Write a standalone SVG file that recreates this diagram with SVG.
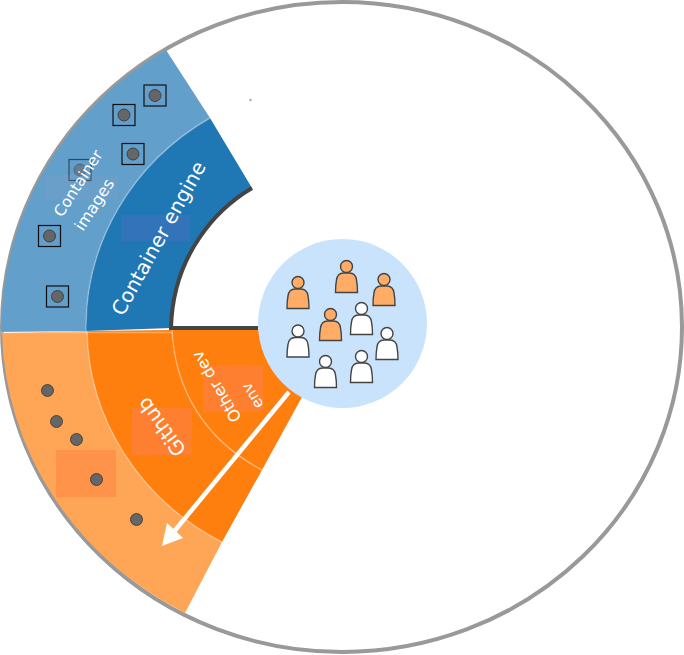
<svg xmlns="http://www.w3.org/2000/svg" width="684" height="655" viewBox="0 0 684 655">
<defs>
<style>
.t{font-family:"DejaVu Sans","Noto Sans",sans-serif;fill:#fff}
.seam{fill:none;stroke:#fff;stroke-opacity:.3;stroke-width:1.5}
.dot{fill:#666;stroke:#333;stroke-width:.8}
.sq{fill:none;stroke:#111;stroke-width:1.2}
.pw{fill:#fff;stroke:#444;stroke-width:1.4}
.po{fill:#ffad66;stroke:#444;stroke-width:1.4}
</style>
<g id="p">
<circle cx="0" cy="-10.500" r="6"/>
<path d="M-11 15.500Q-11 8 -10 3Q-9 -4 -3 -4H3Q9 -4 10 3Q11 8 11 15.500Z"/>
</g>
<g id="img"><rect x="-11" y="-10.500" width="22" height="21" class="sq"/><circle r="6" class="dot"/></g>
</defs>
<rect width="684" height="655" fill="#fff"/>
<ellipse id="outer" cx="342" cy="327" rx="340" ry="325" fill="#fff" stroke="#999" stroke-width="4"/>
<g id="seg-images">
<path d="M1.500 332A340 325 0 0 1 166 50L210 118A256 244 0 0 0 86 331Z" fill="#629fcb"/>
<g transform="translate(155 95.500)"><use href="#img"/></g>
<g transform="translate(124 115)"><use href="#img"/></g>
<g transform="translate(133 154)"><use href="#img"/></g>
<g transform="translate(80 170)" opacity=".6"><use href="#img"/></g>
<g transform="translate(49.500 236)"><use href="#img"/></g>
<g transform="translate(57.500 296.500)"><use href="#img"/></g>
<rect x="45" y="175" width="72" height="25" fill="#8a9fc4" fill-opacity=".18"/>
<text class="t" font-size="15.500" transform="translate(62 218) rotate(-57)">Container</text>
<text class="t" font-size="16" transform="translate(83 232) rotate(-57)">images</text>
</g>
<g id="seg-engine">
<path d="M86 331A256 244 0 0 1 210 118L252 188C232 200 214 216 200 237C184 260 172 290 171 328Z" fill="#1f77b4"/>
<rect x="121" y="215" width="69" height="26" fill="#4a6fc0" fill-opacity=".45"/>
<text class="t" font-size="20" transform="translate(123 317) rotate(-61)">Container engine</text>
<path d="M252 188C232 200 214 216 200 237C184 260 172 290 171 328H258" fill="none" stroke="#444" stroke-width="4"/>
</g>
<g id="seg-outer-orange">
<path d="M2 333A340 325 0 0 0 185 613L222 542A256 244 0 0 1 87 331Z" fill="#ffa556"/>
<rect x="56" y="450" width="60" height="47" fill="#ff7f3a" fill-opacity=".45"/>
<circle cx="47.500" cy="390.500" r="6" class="dot"/>
<circle cx="56.500" cy="421.500" r="6" class="dot"/>
<circle cx="76.500" cy="439.500" r="6" class="dot"/>
<circle cx="96.500" cy="479.500" r="6" class="dot"/>
<circle cx="136.500" cy="519.500" r="6" class="dot"/>
</g>
<g id="seg-github">
<path d="M87 331A256 244 0 0 0 222 542L262 470C205 440 175 390 172 330Z" fill="#ff7f0e"/>
<rect x="132" y="408" width="60" height="47" fill="#ff7f3a" fill-opacity=".8"/>
<text class="t" font-size="20" transform="translate(187 450) rotate(-126)">Github</text>
</g>
<g id="seg-otherdev">
<path d="M172 330C175 390 205 440 262 470L302 397 270 330Z" fill="#ff7f0e"/>
<rect x="203" y="365" width="60" height="47" fill="#ff7f3a" fill-opacity=".8"/>
<text class="t" font-size="16" transform="translate(242 418) rotate(-121)">Other dev</text>
<text class="t" font-size="15" transform="translate(264 405) rotate(-121)">env</text>
</g>
<g id="seams">
<path class="seam" d="M87 331A256 244 0 0 0 222 542"/>
<path class="seam" d="M172 330C175 390 205 440 262 470"/>
<path class="seam" d="M86 331A256 244 0 0 1 210 118"/>
<path class="seam" d="M1 332.500H172"/>
</g>
<circle id="hub" cx="342.500" cy="323.500" r="84.500" fill="#cae3fd"/>
<g id="people">
<use href="#p" class="po" x="298" y="293"/>
<use href="#p" class="po" x="346.500" y="277"/>
<use href="#p" class="po" x="384" y="290"/>
<use href="#p" class="po" x="330.500" y="325"/>
<use href="#p" class="pw" x="361.500" y="319"/>
<use href="#p" class="pw" x="298" y="341.500"/>
<use href="#p" class="pw" x="387" y="344"/>
<use href="#p" class="pw" x="361.500" y="367"/>
<use href="#p" class="pw" x="325.500" y="372"/>
</g>
<g id="connectors">
<path d="M289 392L172 534" fill="none" stroke="#fff" stroke-width="4.500"/>
<path d="M162 546L183 538 167 523Z" fill="#fff"/>
</g>
<circle cx="250.500" cy="100" r="1.200" fill="#9ab"/>
</svg>
